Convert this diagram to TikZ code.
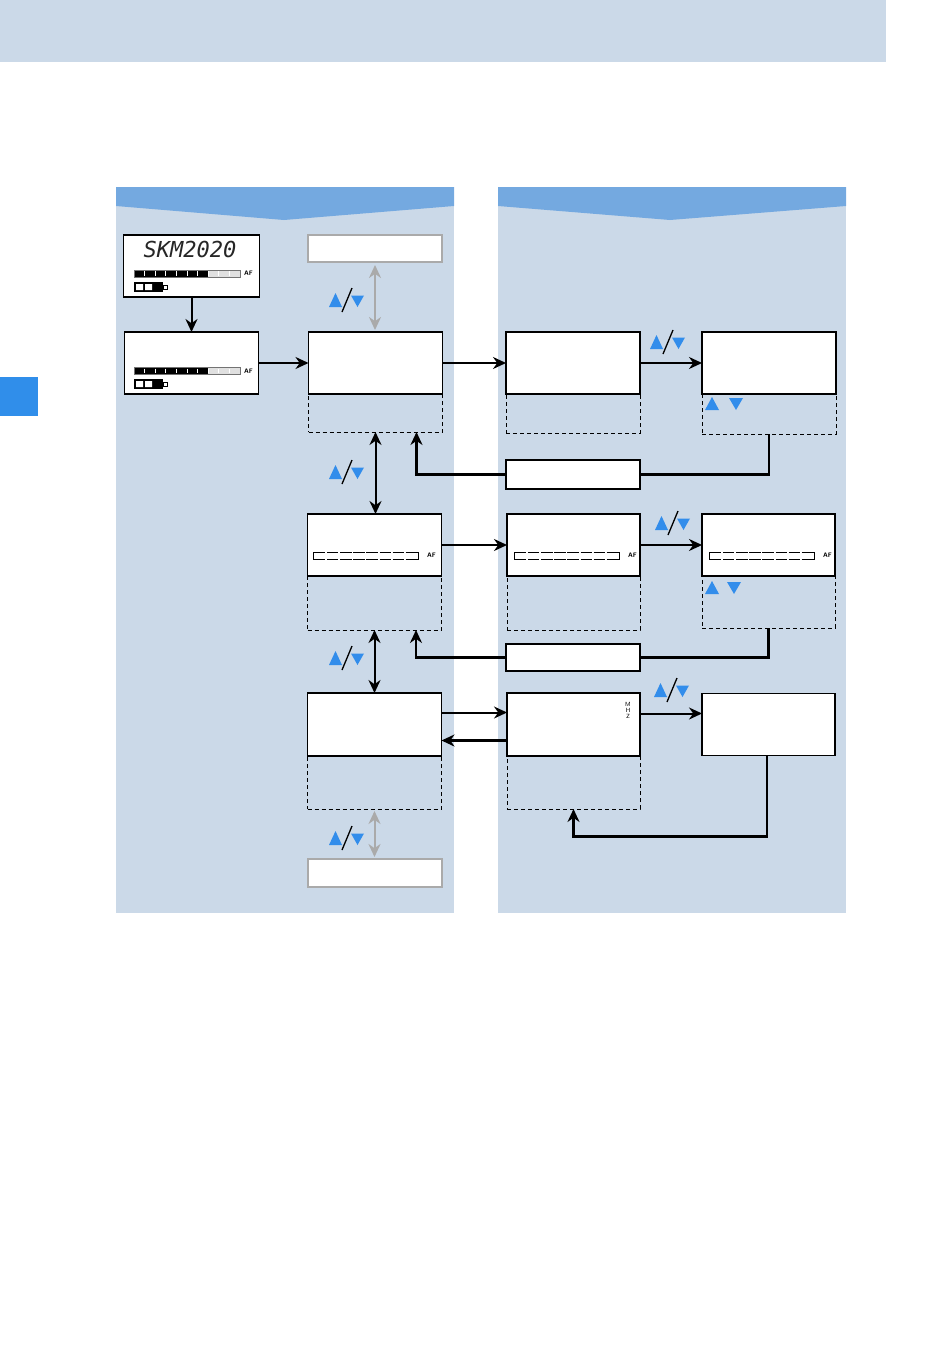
\documentclass[tikz,border=0pt]{standalone}
\usepackage{fontspec}
\usetikzlibrary{arrows.meta,positioning}
\newfontfamily\lcdfont{DejaVu Sans Mono}
\definecolor{panelblue}{RGB}{203,217,232}
\definecolor{headblue}{RGB}{116,169,224}
\definecolor{tabblue}{RGB}{48,142,234}
\definecolor{keyblue}{RGB}{50,141,235}
\definecolor{lightgrey}{RGB}{170,170,170}
\begin{document}
\begin{tikzpicture}[x=1pt,y=-1pt,
  screen/.style={draw,fill=white,line width=1.1pt,minimum width=134pt,minimum height=62pt,inner sep=0pt,outer sep=0pt},
  hint/.style={screen,minimum height=28pt},
  grey hint/.style={hint,draw=lightgrey},
  dash box/.style={draw,dash pattern=on 4pt off 3pt,line width=0.9pt,minimum width=134pt,inner sep=0pt,outer sep=0pt},
  flow/.style={line width=2pt,-{Stealth[length=13pt,width=12pt]}},
  back line/.style={line width=2.2pt},
  two way/.style={line width=2pt,{Stealth[length=13pt,width=12pt]}-{Stealth[length=13pt,width=12pt]}},
  grey two way/.style={two way,lightgrey},
  af/.style={font=\sffamily\bfseries\fontsize{6.5}{7}\selectfont,inner sep=0pt,anchor=west},
  updown/.pic={
    \fill[keyblue] (-18,7) -- (-5,7) -- (-11.5,-7) -- cycle;
    \fill[keyblue] (4,-4.5) -- (17,-4.5) -- (10.5,7) -- cycle;
    \draw[line width=1.3pt] (-5,12) -- (5,-12);
  },
  key up/.pic={\fill[keyblue] (-7,6) -- (7,6) -- (0,-7) -- cycle;},
  key down/.pic={\fill[keyblue] (-7,-6) -- (7,-6) -- (0,6) -- cycle;},
  level bar/.pic={
    \fill[black] (0,0) rectangle (74,7);
    \fill[black!12] (74,0) rectangle (106,7);
    \draw[black!55,line width=0.6pt] (0,0) rectangle (106,7);
    \foreach \i in {1,...,9}
      \draw[white,line width=0.8pt] (\i*10.6,1.2) -- (\i*10.6,5.8);
    \node[af] at (110,3.5) {AF};
  },
  empty bar/.pic={
    \fill[white] (0,0) rectangle (105,7);
    \draw[line width=0.7pt] (2,0) -| (0,7) -- (2,7);
    \draw[line width=0.7pt] (103,0) -| (105,7) -- (103,7);
    \foreach \i in {0,...,7} {
      \draw[line width=0.7pt] (\i*13.1+1,0) -- ++(11.3,0);
      \draw[line width=0.7pt] (\i*13.1+1,7) -- ++(11.3,0);
    }
    \node[af] at (114,3.5) {AF};
  },
  battery/.pic={
    \fill (0,0) rectangle (29,10);
    \fill[white] (2,2) rectangle (9,8) (11,2) rectangle (18,8);
    \draw[line width=0.8pt] (29,3) rectangle (33,7);
  }]

  % page and panels
  \useasboundingbox (0,0) rectangle (950,1346);
  \fill[panelblue] (0,0) rectangle (886,62);
  \fill[tabblue] (0,377) rectangle (38,416);
  \fill[panelblue] (116,187) rectangle (454,913);
  \fill[panelblue] (498,187) rectangle (846,913);
  \fill[headblue] (116,187) -- (454,187) -- (454,206) -- (284,220) -- (116,206) -- cycle;
  \fill[headblue] (498,187) -- (846,187) -- (846,206) -- (670,220) -- (498,206) -- cycle;

  % left column
  \node[screen,minimum width=136pt] (skm) at (191.5,266) {};
  \node[font=\lcdfont\itshape\fontsize{22}{22}\selectfont,text=black!85,inner sep=0pt] (logo) at (190,249) {SKM2020};
  \pic at (134,270) {level bar};
  \pic at (134,282) {battery};
  \node[screen] (disp) at (191.5,363) {};
  \pic at (134,367.5) {level bar};
  \pic at (134,379) {battery};

  % menu column
  \node[grey hint,minimum height=27pt] (topg) at (375,248.5) {};
  \node[screen] (m1) at (375.5,363) {};
  \node[dash box,minimum height=38pt,below=0pt of m1] (m1d) {};
  \node[screen] (m2) at (374.5,545) {};
  \node[dash box,minimum height=54pt,below=0pt of m2] (m2d) {};
  \pic at (313,552) {empty bar};
  \node[screen,minimum height=63pt] (m3) at (374.5,724.5) {};
  \node[dash box,minimum height=53pt,below=0pt of m3] (m3d) {};
  \node[grey hint] (botg) at (375,873) {};

  % setting screens
  \node[screen] (r1a) at (573,363) {};
  \node[dash box,minimum height=39pt,below=0pt of r1a] (r1ad) {};
  \node[screen] (r1b) at (769,363) {};
  \node[dash box,minimum height=40pt,below=0pt of r1b] (r1bd) {};
  \pic at (712,404) {key up};
  \pic at (736,404) {key down};
  \node[hint,minimum height=29pt] (ret1) at (573,474.5) {};

  \node[screen,minimum width=133pt] (r2a) at (573.5,545) {};
  \node[dash box,minimum width=133pt,minimum height=54pt,below=0pt of r2a] (r2ad) {};
  \pic at (514,552) {empty bar};
  \node[screen,minimum width=133pt] (r2b) at (768.5,545) {};
  \node[dash box,minimum width=133pt,minimum height=52pt,below=0pt of r2b] (r2bd) {};
  \pic at (709,552) {empty bar};
  \pic at (712,588) {key up};
  \pic at (734,588) {key down};
  \node[hint,minimum height=27pt] (ret2) at (573,657.5) {};

  \node[screen,minimum width=133pt,minimum height=63pt] (r3a) at (573.5,724.5) {};
  \node[dash box,minimum width=133pt,minimum height=53pt,below=0pt of r3a] (r3ad) {};
  \node[font=\sffamily\fontsize{6}{6}\selectfont,align=center,inner sep=0pt] (mhz) at (628,710) {M\\H\\Z};
  \node[screen,minimum width=133pt] (r3b) at (768.5,724.5) {};

  % connectors
  \draw[flow] (skm.south) -- (skm.south |- disp.north);
  \draw[flow] (disp) -- (m1);
  \draw[grey two way,shorten <=3pt,shorten >=2pt] (topg.south) -- (topg.south |- m1.north);
  \draw[flow] (m1) -- (r1a);
  \draw[flow] (r1a) -- (r1b);
  \draw[back line] (r1bd.south) |- (ret1.east);
  \draw[flow,line width=2.2pt] (ret1.west) -| ([xshift=41pt]m1d.south);
  \draw[two way] (m1d.south) -- (m1d.south |- m2.north);

  \draw[flow] (m2) -- (r2a);
  \draw[flow] (r2a) -- (r2b);
  \draw[back line] (r2bd.south) |- (ret2.east);
  \draw[flow,line width=2.2pt] (ret2.west) -| ([xshift=41.5pt]m2d.south);
  \draw[two way] (m2d.south) -- (m2d.south |- m3.north);

  \draw[flow] ([yshift=12pt]m3.east) -- ([yshift=12pt]r3a.west);
  \draw[flow,line width=2.2pt] ([yshift=-16pt]r3a.west) -- ([yshift=-16pt]m3.east);
  \draw[flow] ([yshift=11pt]r3a.east) -- ([yshift=11pt]r3b.west);
  \draw[flow,line width=2.2pt] ([xshift=-1.5pt]r3b.south) -- ++(0,81) -| (r3ad.south);
  \draw[grey two way,shorten <=2pt,shorten >=2pt] (m3d.south) -- (m3d.south |- botg.north);

  % key hints
  \pic at (347,300) {updown};
  \pic at (347,472) {updown};
  \pic at (347,658) {updown};
  \pic at (347,838) {updown};
  \pic at (668,342) {updown};
  \pic at (673,523) {updown};
  \pic at (672,690) {updown};
\end{tikzpicture}
\end{document}
